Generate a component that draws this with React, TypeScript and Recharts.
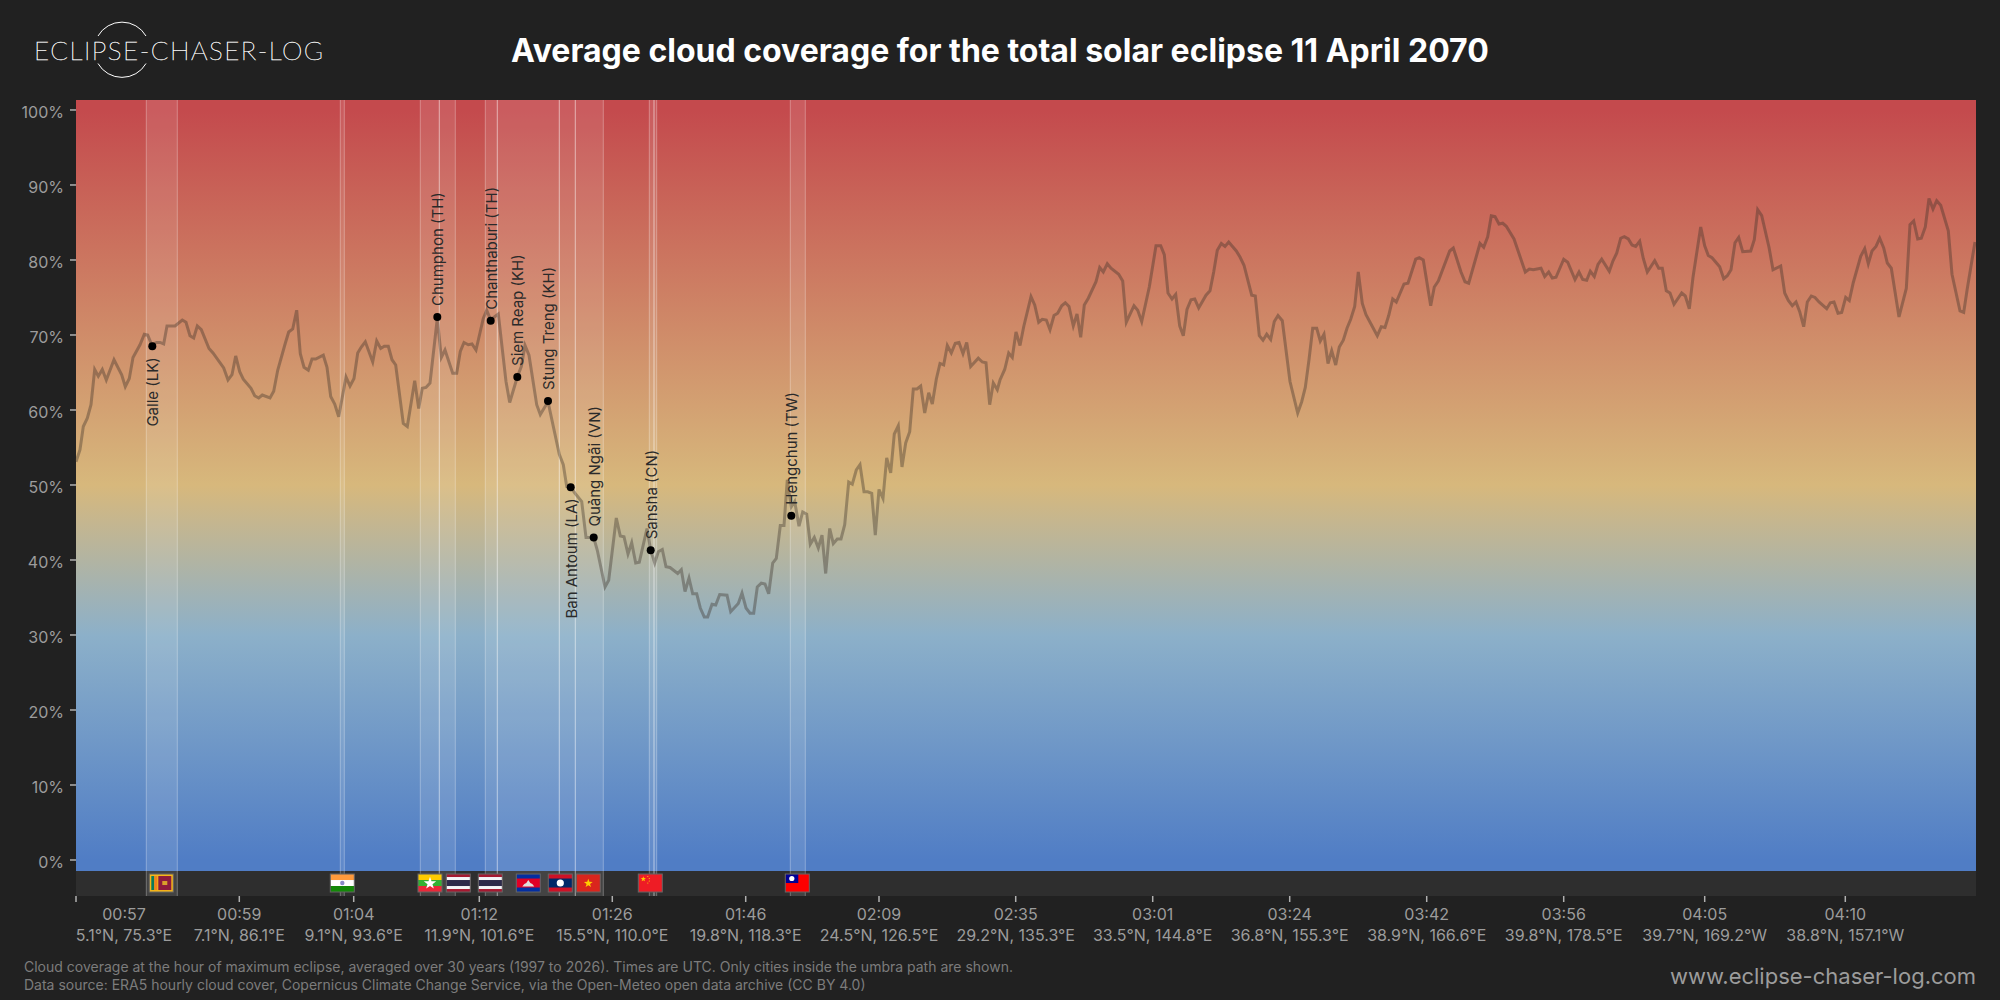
import React from 'react';
import {
  ComposedChart,
  Line,
  XAxis,
  YAxis,
  CartesianGrid,
  ReferenceArea,
  ReferenceDot,
} from 'recharts';

// position along the umbra path (arbitrary track units) and averaged cloud cover in %
const trackPos = [
  0, 4, 7.3, 11.3, 15, 18.7, 22.3, 26.3, 30.3, 38, 45.7, 49.3, 53.3, 57, 64, 68.3, 71.7, 75.7, 80.7, 84, 87.7, 91, 99,
  106.3, 110, 114, 117.7, 121.3, 125.3, 133, 137, 147.7, 152, 156, 159.7, 163.7, 167.3, 175, 178.7, 182.7, 186.3, 194,
  197.7, 201.7, 209.3, 212.7, 216.7, 220.7, 224.3, 228, 232.3, 236, 239.7, 247.3, 251, 254.7, 258.7, 262.7, 270, 274,
  278, 281.7, 285.3, 289.3, 296.7, 300.7, 304.7, 308.3, 312.3, 316, 319.7, 327.3, 331.3, 338.7, 342.7, 346.3, 350, 354,
  361.3, 365.3, 369, 376.7, 380.7, 384.3, 388, 392.3, 396, 400, 407.3, 410.7, 414.7, 418.3, 422.3, 430, 433.7, 441.3,
  445.3, 449, 453, 460.7, 464.3, 472, 483.3, 487.3, 490.7, 494.7, 499, 505.7, 510, 514, 517.7, 521.3, 529, 532.7, 540.3,
  544.3, 548, 552, 555.7, 559.7, 563.3, 571, 574.7, 578.7, 582.3, 586.3, 590, 594, 601.7, 605.3, 609, 613, 616.7, 620.7,
  624.3, 628.3, 631.7, 636, 639.7, 643.7, 651, 654.7, 662.3, 666, 670, 674, 677.7, 681.3, 685.3, 689, 692.7, 696.7,
  700.3, 704.3, 708, 711.3, 715.3, 718.7, 723, 726.7, 730.7, 734.3, 738.3, 742.3, 746, 749.7, 753.7, 757.3, 761.3, 765,
  768.7, 772.7, 776.3, 780.3, 784, 788, 791.7, 795.7, 799.3, 803, 807, 810.7, 814.7, 818.3, 822.3, 826, 829.7, 833.7,
  837.3, 841, 844.7, 848.7, 852.7, 856.3, 860.3, 864, 867.7, 871.3, 875.3, 879.3, 883, 887, 890.7, 894.7, 902.3, 906.3,
  910, 913.7, 917.3, 921.3, 924, 928.7, 932.7, 936.3, 940, 944, 947.7, 955, 958.7, 962.7, 966.3, 970.3, 974, 978, 981.7,
  985.7, 989.3, 993, 997.3, 1001, 1004.7, 1008.3, 1012.3, 1020, 1023.7, 1027.3, 1031.3, 1035, 1042.7, 1046.7, 1050.3,
  1058, 1061.7, 1065.7, 1073.3, 1080, 1084.7, 1088.3, 1092, 1096, 1099.7, 1103.7, 1107.3, 1111, 1115, 1118.7, 1122.7,
  1130, 1134, 1137.7, 1141.3, 1145.3, 1149, 1152.7, 1160.3, 1164, 1168, 1175.7, 1179.3, 1183.3, 1187, 1190.7, 1194.7,
  1198.3, 1202, 1206.3, 1214, 1221.7, 1225.7, 1229.3, 1233, 1236.7, 1240.7, 1244.3, 1248, 1252, 1255.7, 1259.7, 1263.3,
  1267.3, 1271, 1274.7, 1278.7, 1282.3, 1286.3, 1290, 1301.3, 1305.3, 1309, 1312.7, 1316.7, 1320.3, 1328, 1332, 1339.7,
  1343.3, 1347.3, 1354.7, 1358.3, 1362.3, 1373.7, 1377.3, 1385, 1389, 1392.7, 1404, 1407.7, 1411.7, 1415.3, 1419, 1423,
  1426.7, 1430.3, 1438, 1449.3, 1453.3, 1457.3, 1465, 1468.7, 1472.7, 1476.3, 1480, 1487.7, 1491.7, 1499, 1503, 1506.7,
  1510.7, 1514.3, 1518.3, 1522, 1525.7, 1533.3, 1537, 1540.7, 1544.7, 1548.3, 1552.3, 1556, 1559.7, 1563.7, 1567.3,
  1571.3, 1578.7, 1582.7, 1586.3, 1590.3, 1594, 1598, 1605.7, 1609.3, 1613.3, 1617, 1624.7, 1628.7, 1632.3, 1636, 1643.7,
  1647.7, 1651.3, 1655, 1659, 1662.7, 1666.7, 1674.7, 1678.3, 1681.7, 1685.7, 1693, 1697, 1704.7, 1708.7, 1712.3, 1716.3,
  1720, 1723.7, 1727.7, 1731.3, 1735.3, 1739, 1743, 1750.7, 1754.3, 1758, 1762, 1765.7, 1769.7, 1773.3, 1777.3, 1784.7,
  1788.7, 1792.3, 1796, 1800, 1803.7, 1807.7, 1811.3, 1815.3, 1823, 1830.3, 1834, 1837.7, 1841.7, 1845.3, 1849.3, 1853,
  1857, 1860.7, 1864.7, 1872.3, 1876, 1884, 1887.7, 1891.3, 1899,
];

const cloudCover = [
  53.1, 54.7, 57.8, 58.9, 60.7, 65.4, 64.5, 65.4, 64, 66.7, 64.7, 63.1, 64.2, 67, 68.7, 70.1, 70, 68.7, 69, 69, 68.8, 71.2, 71.2,
  72, 71.7, 69.9, 69.6, 71.2, 70.7, 68.2, 67.6, 65.6, 64, 64.7, 67.2, 65.1, 64.1, 62.9, 61.9, 61.6, 62, 61.6,
  62.5, 65.3, 68.9, 70.4, 70.8, 73.3, 67.5, 65.7, 65.3, 66.8, 66.8, 67.3, 65.7, 61.8, 60.8, 59.1, 64.4, 63.2,
  64.2, 67.6, 68.4, 69.1, 66.4, 69.2, 68.2, 68.5, 68.5, 66.7, 66, 58.2, 57.8, 63.9, 60.2, 62.9, 63, 63.6,
  72.2, 67, 68, 64.9, 64.9, 67.8, 69, 68.7, 68.8, 68, 72.2, 73.3, 72, 72.4, 72.8, 63.8, 61, 64.4,
  65.8, 68.6, 67.3, 60.7, 59.4, 61.1, 54.1, 52.7, 49.8, 49.7, 48.9, 47.8, 43, 43, 43, 41.3, 36.4, 37.3, 45.6,
  43.2, 43.1, 40.8, 42.3, 39.6, 39.7, 44.2, 41.3, 39.6, 41.1, 41.4, 39.1, 39, 38.2, 38.7, 35.8, 37.6, 35.5, 35.5,
  33.6, 32.4, 32.4, 34.1, 34, 35.4, 35.3, 33.1, 34.2, 35.6, 33.6, 32.9, 32.9, 36.4, 36.9, 36.8, 35.5, 39.6,
  40.2, 44.6, 44.6, 50.7, 47.1, 47.8, 44.5, 46.4, 46.1, 42.1, 43, 41.6, 43.3, 38.2, 44.2, 42.2, 42.8, 42.8,
  44.7, 50.4, 50.1, 52, 52.7, 49.1, 49.1, 48.9, 43.3, 49.4, 48.2, 53.6, 51.6, 56.8, 57.9, 52.4, 55.6, 57.1,
  62.8, 62.8, 63.2, 59.6, 62.3, 60.8, 64.1, 66.2, 66, 68.6, 67.6, 68.9, 69, 67.5, 69, 65.8, 66.9, 66.4,
  66.3, 60.7, 63.6, 62.7, 64, 65.4, 67.6, 67, 70.4, 68.6, 71.1, 75.1, 74, 71.7, 72.1, 72, 70.7, 72.6, 72.9,
  73.9, 74.3, 73.8, 71.2, 72.8, 69.7, 74, 74.9, 77.1, 79, 78.4, 79.5, 78.9, 78.1, 77.2, 71.7,
  73.9, 73.3, 71.8, 76.4, 81.9, 81.9, 80.7, 75.6, 74.8, 75.4, 71.2, 69.9, 73.4, 74.7, 74.8, 73.6,
  75.3, 75.9, 78.4, 81.3, 82.2, 81.8, 82.4, 81.2, 80.4, 79.3, 75.3, 75.2, 69.9, 69.3, 70.1, 69.4,
  71.8, 72.6, 71.9, 63.8, 59.6, 61.1, 63, 66.7, 70.9, 70.9, 69.2, 70.1, 66.2, 67.9, 66, 68.4,
  69.3, 70.9, 72.1, 73.8, 78.4, 74.2, 72.7, 69.9, 71.1, 71, 72.6, 74.8, 74.4, 76.8, 76.9, 80.1,
  80.3, 80, 73.9, 76.4, 77.2, 81.2, 81.6, 78.4, 77.1, 76.9, 82.2, 81.7, 83.1, 85.9, 85.8, 84.8,
  84.9, 84.5, 82.8, 78.4, 78.8, 78.7, 78.9, 77.8, 78.4, 77.6, 77.7, 80.1, 79.7, 77.4, 78.4, 77.4,
  77.3, 78.5, 77.8, 79.4, 80.1, 78.5, 79.9, 80.9, 82.9, 83.1, 82.8, 82, 81.8, 82.5, 80.2,
  78.4, 79.9, 78.9, 78.9, 75.9, 75.6, 74.1, 75.6, 75.2, 73.5, 77.7, 84.4, 81.9, 80.6, 80.3, 79.1,
  77.5, 77.9, 78.7, 82.3, 83, 81.1, 81.2, 82.7, 86.7, 85.9, 81.7, 78.7, 79.2, 75.6, 74.6, 73.9,
  74.4, 73.1, 71.1, 74.4, 75.2, 75, 74.4, 73.5, 74.3, 74.4, 72.9, 73, 75, 74.6, 77, 80.5,
  81.5, 79.5, 81.2, 81.8, 82.9, 81.6, 79.6, 78.9, 72.4, 76.2, 84.7, 85.2, 82.8, 82.9, 84.4, 88.2,
  86.8, 87.9, 87.3, 83.9, 78.1, 73.2, 73, 76.2, 82.4,
];

const tickPos = [0, 163.3, 277.7, 403.3, 536.3, 669.7, 803, 939.7, 1076.7, 1213.7, 1350.7, 1487.7, 1628.7, 1769.3];
const tickTimes = ['00:57', '00:59', '01:04', '01:12', '01:26', '01:46', '02:09', '02:35', '03:01', '03:24', '03:42', '03:56', '04:05', '04:10'];
const tickCoords = [
  '5.1°N, 75.3°E', '7.1°N, 86.1°E', '9.1°N, 93.6°E', '11.9°N, 101.6°E', '15.5°N, 110.0°E', '19.8°N, 118.3°E', '24.5°N, 126.5°E',
  '29.2°N, 135.3°E', '33.5°N, 144.8°E', '36.8°N, 155.3°E', '38.9°N, 166.6°E', '39.8°N, 178.5°E', '39.7°N, 169.2°W', '38.8°N, 157.1°W',
];
const yTicks = [0, 10, 20, 30, 40, 50, 60, 70, 80, 90, 100];

// stretches of the path over land
const bandStart = [70.3, 264.3, 344.3, 363.3, 409.3, 421.3, 483.3, 499.3, 573.3, 578, 714.3];
const bandEnd = [101.3, 268.3, 363.3, 379.3, 421.3, 483.3, 499.3, 527.3, 578, 580.7, 729.3];

const cityNames = ['Galle (LK)', 'Chumphon (TH)', 'Chanthaburi (TH)', 'Siem Reap (KH)', 'Stung Treng (KH)', 'Ban Antoum (LA)', 'Quảng Ngãi (VN)', 'Sansha (CN)', 'Hengchun (TW)'];
const cityPos = [76.3, 361.3, 414.7, 441.3, 472, 494.7, 517.7, 574.7, 715.3];
const cityCloud = [68.5, 72.4, 71.9, 64.4, 61.2, 49.7, 43, 41.3, 45.9];
const cityBelow = ['Galle (LK)', 'Ban Antoum (LA)'];

const flagCodes = ['lk', 'in', 'mm', 'th', 'th', 'kh', 'la', 'vn', 'cn', 'tw'];
const flagPos = [85.3, 266.3, 354, 382.3, 414.3, 452.3, 484.3, 512.3, 574.3, 721.3];

const stopValues = [100, 50, 30, 0];
const stopColors = ['#c44a4d', '#d7b87c', '#8cb0c9', '#507dc5'];

const Y_MIN = -4.8;
const Y_TOP = 101.33;
const Y_FLOOR = -1.47;
const FLAG_ROW = -3.07;

const data = trackPos.map((track, i) => ({ track, cloud: cloudCover[i] }));

const FONT = 'Inter, sans-serif';
const GREY = '#9c9c9c';

function star(cx: number, cy: number, r: number) {
  const pts: string[] = [];
  for (let i = 0; i < 10; i++) {
    const a = -Math.PI / 2 + (i * Math.PI) / 5;
    const rr = i % 2 ? r * 0.4 : r;
    pts.push(`${cx + rr * Math.cos(a)},${cy + rr * Math.sin(a)}`);
  }
  return pts.join(' ');
}

function FlagArt({ code }: { code: string }) {
  // drawn in a 24x18 box
  switch (code) {
    case 'lk':
      return (
        <g>
          <rect width={24} height={18} fill="#f7b718" />
          <rect x={2} y={2} width={3} height={14} fill="#0a7a5a" />
          <rect x={5} y={2} width={3} height={14} fill="#f0821e" />
          <rect x={9} y={2} width={13} height={14} fill="#8d1b3d" />
          <rect x={13} y={7} width={5} height={4} fill="#d9a02a" />
        </g>
      );
    case 'in':
      return (
        <g>
          <rect width={24} height={6} fill="#ff9a3c" />
          <rect y={6} width={24} height={6} fill="#fff" />
          <rect y={12} width={24} height={6} fill="#138808" />
          <circle cx={12} cy={9} r={2.2} fill="#8a8ac8" />
        </g>
      );
    case 'mm':
      return (
        <g>
          <rect width={24} height={6} fill="#fecb00" />
          <rect y={6} width={24} height={6} fill="#34b233" />
          <rect y={12} width={24} height={6} fill="#ea2839" />
          <polygon points={star(12, 9.3, 6.5)} fill="#fff" />
        </g>
      );
    case 'th':
      return (
        <g>
          <rect width={24} height={18} fill="#a51931" />
          <rect y={3} width={24} height={12} fill="#f4f5f8" />
          <rect y={6} width={24} height={6} fill="#2d2a4a" />
        </g>
      );
    case 'kh':
      return (
        <g>
          <rect width={24} height={18} fill="#032ea1" />
          <rect y={4.5} width={24} height={9} fill="#e00025" />
          <path d="M6 12.5 L18 12.5 L16 10 L14 9 L12 6 L10 9 L8 10 Z" fill="#ddd" />
        </g>
      );
    case 'la':
      return (
        <g>
          <rect width={24} height={18} fill="#ce1126" />
          <rect y={4.5} width={24} height={9} fill="#002868" />
          <circle cx={12} cy={9} r={3.6} fill="#fff" />
        </g>
      );
    case 'vn':
      return (
        <g>
          <rect width={24} height={18} fill="#da251d" />
          <polygon points={star(12, 9.3, 4.6)} fill="#ffcd00" />
        </g>
      );
    case 'cn':
      return (
        <g>
          <rect width={24} height={18} fill="#ee1c25" />
          <polygon points={star(5, 5, 2.8)} fill="#ffcd00" />
          <circle cx={9.5} cy={2.5} r={0.6} fill="#ffcd00" />
          <circle cx={11} cy={4.5} r={0.6} fill="#ffcd00" />
          <circle cx={11} cy={7} r={0.6} fill="#ffcd00" />
          <circle cx={9.5} cy={9} r={0.6} fill="#ffcd00" />
        </g>
      );
    default:
      return (
        <g>
          <rect width={24} height={18} fill="#fe0000" />
          <rect width={13} height={9} fill="#000095" />
          <circle cx={6.5} cy={4.5} r={2.6} fill="#fff" />
        </g>
      );
  }
}

function flagShape(code: string) {
  return (props: any) => (
    <g transform={`translate(${props.cx - 12},${props.cy - 9})`}>
      <FlagArt code={code} />
      <rect width={24} height={18} fill="none" stroke="#666" strokeWidth={1} />
    </g>
  );
}

function cityShape(name: string) {
  const below = cityBelow.includes(name);
  return (props: any) => {
    const { cx, cy } = props;
    const ty = below ? cy + 11 : cy - 11;
    return (
      <g>
        <circle cx={cx} cy={cy} r={4} fill="#000" />
        <text
          x={cx + 0.5}
          y={ty}
          transform={`rotate(-90 ${cx + 0.5} ${ty})`}
          textAnchor={below ? 'end' : 'start'}
          dominantBaseline="central"
          fontFamily={FONT}
          fontSize={15}
          fill="#2a2a2a"
        >
          {name}
        </text>
      </g>
    );
  };
}

// side edges only, the band runs the full height of the plot
function BandShape(props: any) {
  const { x, y, width, height } = props;
  return (
    <g>
      <rect x={x} y={y} width={width} height={height} fill="#fff" fillOpacity={0.1} />
      <line x1={x} x2={x} y1={y} y2={y + height} stroke="#fff" strokeOpacity={0.3} />
      <line x1={x + width} x2={x + width} y1={y} y2={y + height} stroke="#fff" strokeOpacity={0.3} />
    </g>
  );
}

function TrackTick(props: any) {
  const { x, y, payload, index } = props;
  const i = tickPos.indexOf(payload.value);
  const shift = i === 0 ? 48 : 0;
  return (
    <g key={index} fontFamily={FONT} fill={GREY} textAnchor="middle">
      <text x={x + shift} y={y + 10} fontSize={16} dominantBaseline="central">
        {tickTimes[i]}
      </text>
      <text x={x + shift} y={y + 31} fontSize={16} dominantBaseline="central">
        {tickCoords[i]}
      </text>
    </g>
  );
}

function Logo() {
  return (
    <svg width={340} height={100} style={{ position: 'absolute', left: 0, top: 0 }}>
      <path d="M98 36 A27.7 27.7 0 0 1 146 36" fill="none" stroke="#fff" strokeWidth={1} />
      <path d="M98 63.5 A27.7 27.7 0 0 0 146 63.5" fill="none" stroke="#fff" strokeWidth={1} />
      <text
        x={34}
        y={50}
        dominantBaseline="central"
        fontFamily="Lato, sans-serif"
        fontWeight={100}
        fontSize={26}
        fill="#fff"
        stroke="#fff"
        strokeWidth={0.45}
        textLength={289}
      >
        ECLIPSE-CHASER-LOG
      </text>
    </svg>
  );
}

export default function App() {
  return (
    <div style={{ position: 'absolute', left: 0, top: 0, width: 2000, height: 1000, background: '#212121', overflow: 'hidden', fontFamily: FONT }}>
      <ComposedChart
        width={2000}
        height={1000}
        data={data}
        margin={{ top: 100, right: 24, bottom: 0, left: 0 }}
        style={{ position: 'absolute', left: 0, top: 0 }}
      >
        <defs>
          <linearGradient id="cloudScale" x1="0" y1="0" x2="0" y2="1">
            {stopValues.map((v, i) => (
              <stop key={v} offset={(Y_TOP - v) / (Y_TOP - Y_FLOOR)} stopColor={stopColors[i]} />
            ))}
          </linearGradient>
        </defs>
        <XAxis
          type="number"
          dataKey="track"
          domain={[0, 1900]}
          ticks={tickPos}
          interval={0}
          height={104}
          axisLine={false}
          tickLine={{ stroke: '#b0b0b0', strokeWidth: 1.5 }}
          tickSize={6}
          tick={TrackTick}
        />
        <YAxis
          type="number"
          domain={[Y_MIN, Y_TOP]}
          ticks={yTicks}
          interval={0}
          width={76}
          axisLine={false}
          tickLine={{ stroke: '#b0b0b0', strokeWidth: 1.5 }}
          tickSize={6}
          tickMargin={6}
          tickFormatter={(v: number) => `${v}%`}
          tick={{ fill: GREY, fontSize: 16, fontFamily: FONT, dy: 2 }}
        />
        <ReferenceArea x1={0} x2={1900} y1={Y_FLOOR} y2={Y_TOP} fill="url(#cloudScale)" fillOpacity={1} stroke="none" />
        <ReferenceArea x1={0} x2={1900} y1={Y_MIN} y2={Y_FLOOR} fill="#2e2e2e" fillOpacity={1} stroke="none" />
        <CartesianGrid horizontal vertical={false} stroke="rgba(255,255,255,0.16)" horizontalValues={yTicks.slice(1)} />
        {bandStart.map((start, i) => (
          <ReferenceArea key={start} x1={start} x2={bandEnd[i]} y1={Y_MIN} y2={Y_TOP} shape={BandShape} />
        ))}
        {flagCodes.map((code, i) => (
          <ReferenceDot key={i} x={flagPos[i]} y={FLAG_ROW} r={1} shape={flagShape(code)} />
        ))}
        <Line
          type="linear"
          dataKey="cloud"
          stroke="#3a3028"
          strokeOpacity={0.38}
          strokeWidth={3}
          dot={false}
          activeDot={false}
          isAnimationActive={false}
        />
        {cityNames.map((name, i) => (
          <ReferenceDot key={name} x={cityPos[i]} y={cityCloud[i]} r={4} shape={cityShape(name)} />
        ))}
      </ComposedChart>
      <Logo />
      <div style={{ position: 'absolute', left: 511, top: 29, fontSize: 32, fontWeight: 700, color: '#fff', whiteSpace: 'nowrap', lineHeight: '44px' }}>
        Average cloud coverage for the total solar eclipse 11 April 2070
      </div>
      <div style={{ position: 'absolute', left: 24, top: 958, fontSize: 14, lineHeight: '18px', color: '#7c7c7c', whiteSpace: 'nowrap' }}>
        Cloud coverage at the hour of maximum eclipse, averaged over 30 years (1997 to 2026). Times are UTC. Only cities inside the umbra path are shown.
        <br />
        Data source: ERA5 hourly cloud cover, Copernicus Climate Change Service, via the Open-Meteo open data archive (CC BY 4.0)
      </div>
      <div style={{ position: 'absolute', right: 24, top: 962, fontSize: 22, lineHeight: '28px', color: GREY, whiteSpace: 'nowrap' }}>
        www.eclipse-chaser-log.com
      </div>
    </div>
  );
}
